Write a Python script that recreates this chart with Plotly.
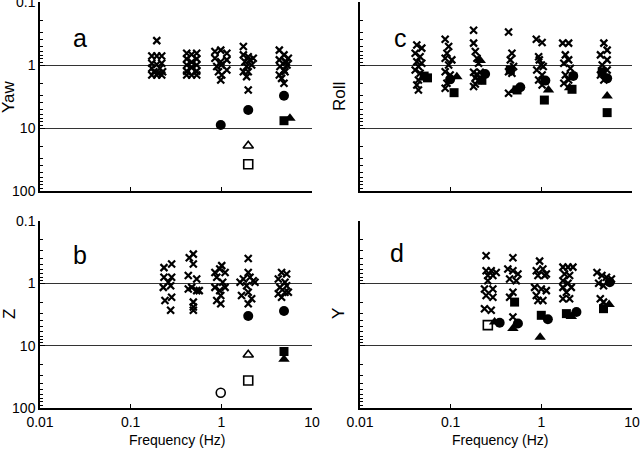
import plotly.graph_objects as go
from plotly.subplots import make_subplots

# ---------------- Panel a : Yaw ----------------
yaw_x_f = [0.194, 0.171, 0.194, 0.22, 0.171, 0.194, 0.22, 0.171, 0.21, 0.18, 0.2, 0.225, 0.171, 0.194, 0.22,
           0.415, 0.47, 0.535, 0.415, 0.535, 0.47, 0.415, 0.535, 0.47, 0.415, 0.535, 0.415, 0.47, 0.535,
           0.85, 0.985, 1.15, 0.85, 0.985, 1.15, 0.89, 1.0, 1.15, 0.93, 1.01, 0.985,
           1.75, 1.75, 1.98, 2.25, 1.82, 2.07, 1.9, 2.16, 1.75, 1.98, 1.9, 1.98,
           4.36, 4.91, 5.48, 4.36, 5.04, 4.43, 4.91, 4.36, 5.04, 4.62, 4.91, 5.3, 5.2]
yaw_x_v = [0.41, 0.72, 0.72, 0.72, 0.94, 0.98, 0.94, 1.13, 1.13, 1.28, 1.35, 1.28, 1.44, 1.44, 1.44,
           0.65, 0.68, 0.65, 0.8, 0.8, 0.9, 1.0, 1.0, 1.1, 1.25, 1.25, 1.44, 1.44, 1.44,
           0.61, 0.58, 0.65, 0.78, 0.89, 0.83, 1.06, 1.0, 1.2, 1.28, 1.44, 1.73,
           0.51, 0.69, 0.74, 0.78, 0.89, 0.83, 1.06, 1.0, 1.28, 1.28, 1.53, 2.49,
           0.58, 0.69, 0.78, 0.83, 0.89, 1.06, 1.2, 1.44, 1.28, 1.63, 1.95, 1.0, 0.9]
yaw_circ_f = [0.985, 1.98, 4.91]
yaw_circ_v = [8.95, 5.18, 3.07]
yaw_sq_f = [4.91]
yaw_sq_v = [7.66]
yaw_tri_f = [5.71]
yaw_tri_v = [7.0]
yaw_otri_f = [1.98]
yaw_otri_v = [19.1]
yaw_osq_f = [1.98]
yaw_osq_v = [37.7]
yaw_ocirc_f = []
yaw_ocirc_v = []

# ---------------- Panel b : Z ----------------
z_x_f = [0.233, 0.283, 0.233, 0.283, 0.26, 0.229, 0.276, 0.239, 0.283, 0.276,
         0.443, 0.491, 0.491, 0.432, 0.471, 0.535, 0.432, 0.535, 0.571, 0.491, 0.491, 0.491,
         0.85, 0.96, 1.01, 1.10, 0.89, 1.035, 0.85, 0.96, 1.10, 0.89, 0.985, 0.985,
         1.98, 1.98, 1.75, 2.07, 2.25, 1.61, 1.9, 2.35, 1.98, 1.67, 2.16, 1.98,
         4.62, 5.25, 4.25, 5.04, 4.43, 5.25, 4.25, 5.04, 4.62, 5.48]
z_x_v = [0.56, 0.49, 0.80, 0.80, 0.96, 1.16, 1.09, 1.88, 1.67, 2.71,
         0.39, 0.34, 0.49, 0.75, 1.16, 0.85, 1.23, 1.31, 1.31, 2.0, 2.4, 2.71,
         0.67, 0.59, 0.52, 0.67, 0.80, 0.96, 1.16, 1.31, 1.16, 1.88, 1.57, 2.12,
         0.40, 0.67, 0.85, 0.80, 0.91, 0.96, 1.09, 0.96, 1.39, 1.57, 1.77, 2.12,
         0.67, 0.71, 0.85, 0.96, 1.16, 1.09, 1.47, 1.39, 1.67, 1.39]
z_circ_f = [1.98, 4.91]
z_circ_v = [3.34, 2.78]
z_sq_f = [4.91]
z_sq_v = [12.4]
z_tri_f = [4.91]
z_tri_v = [16.5]
z_otri_f = [1.98]
z_otri_v = [14.0]
z_osq_f = [1.98]
z_osq_v = [36.3]
z_ocirc_f = [0.985]
z_ocirc_v = [57.0]

# ---------------- Panel c : Roll ----------------
roll_x_f = [0.0423, 0.048, 0.0406, 0.046, 0.0423, 0.048, 0.0441, 0.0406, 0.046, 0.0441, 0.0423, 0.0441,
            0.087, 0.095, 0.091, 0.103, 0.087, 0.095, 0.087, 0.0987, 0.091, 0.087,
            0.179, 0.179, 0.187, 0.195, 0.203, 0.179, 0.195, 0.212, 0.187, 0.203, 0.187, 0.179,
            0.435, 0.474, 0.455, 0.494, 0.435, 0.474, 0.435,
            0.88, 1.02, 0.934, 1.0, 0.89, 1.02, 0.934, 1.02, 0.95, 1.05,
            1.72, 2.0, 1.84, 2.0, 1.77, 2.09, 1.84, 1.77, 2.0,
            4.89, 5.32, 4.49, 5.32, 4.69, 5.32, 4.49, 4.89]
roll_x_v = [0.48, 0.54, 0.65, 0.74, 0.89, 0.94, 1.06, 1.2, 1.35, 1.73, 2.08, 2.49,
            0.39, 0.51, 0.65, 0.83, 0.78, 1.0, 1.28, 1.44, 1.95, 2.34,
            0.28, 0.45, 0.61, 0.78, 0.94, 1.3, 1.4, 1.3, 1.6, 1.75, 2.0, 2.2,
            0.30, 0.65, 0.83, 1.06, 1.28, 1.35, 2.81,
            0.39, 0.44, 0.74, 1.0, 1.2, 1.44, 1.73, 2.08, 0.83, 1.06,
            0.45, 0.45, 0.69, 0.83, 0.94, 1.13, 1.44, 1.95, 1.73,
            0.45, 0.58, 0.69, 0.83, 1.0, 1.2, 1.44, 1.73]
roll_circ_f = [0.0987, 0.24, 0.586, 1.107, 2.25, 5.32]
roll_circ_v = [1.69, 1.39, 2.26, 1.77, 1.49, 1.63]
roll_sq_f = [0.051, 0.0555, 0.109, 0.221, 0.455, 0.54, 1.08, 2.18, 4.69, 5.32]
roll_sq_v = [1.5, 1.6, 2.75, 1.75, 1.2, 2.49, 3.6, 2.43, 1.28, 5.7]
roll_tri_f = [0.117, 0.212, 0.5, 1.2, 2.05, 5.32]
roll_tri_v = [1.53, 0.85, 2.55, 2.49, 2.3, 3.1]
roll_otri_f = []
roll_otri_v = []
roll_osq_f = []
roll_osq_v = []
roll_ocirc_f = []
roll_ocirc_v = []

# ---------------- Panel d : Y ----------------
y_x_f = [0.246, 0.246, 0.28, 0.318, 0.257, 0.292, 0.257, 0.236, 0.292, 0.246, 0.292, 0.236, 0.28,
         0.486, 0.427, 0.486, 0.552, 0.447, 0.529, 0.486, 0.447, 0.486,
         0.957, 0.88, 1.04, 1.135, 0.918, 1.09, 0.843, 0.999, 1.135, 0.88, 1.04, 0.918,
         1.73, 1.97, 2.23, 1.8, 2.05, 1.73, 1.97, 1.73, 2.14, 1.89, 1.73, 2.05,
         4.11, 4.66, 5.23, 5.93, 4.29, 4.85, 4.47, 4.85]
y_x_v = [0.36, 0.63, 0.63, 0.67, 0.75, 0.75, 0.91, 1.23, 1.23, 1.57, 1.67, 2.55, 2.71,
         0.39, 0.59, 0.63, 0.71, 0.85, 0.91, 1.39, 1.67, 3.46,
         0.44, 0.63, 0.59, 0.71, 0.75, 0.75, 1.16, 1.23, 1.31, 1.57, 1.88, 1.88,
         0.55, 0.55, 0.55, 0.71, 0.75, 0.91, 1.0, 1.16, 1.16, 1.39, 1.77, 1.77,
         0.67, 0.75, 0.80, 0.85, 1.0, 1.09, 1.77, 2.0]
y_circ_f = [0.347, 0.552, 1.18, 2.44, 5.68]
y_circ_v = [4.3, 4.4, 3.77, 2.89, 0.96]
y_sq_f = [0.507, 0.999, 1.89, 4.85]
y_sq_v = [2.0, 3.26, 3.06, 2.55]
y_tri_f = [0.305, 0.486, 0.97, 2.14, 5.59]
y_tri_v = [4.16, 5.3, 7.35, 3.4, 2.18]
y_otri_f = []
y_otri_v = []
y_osq_f = [0.257]
y_osq_v = [4.69]
y_ocirc_f = []
y_ocirc_v = []

panel_letters = ["a", "b", "c", "d"]
panel_titles = ["Yaw", "Z", "Roll", "Y"]
x_tick_vals = [0.01, 0.1, 1, 10]
x_tick_text = ["0.01", "0.1", "1", "10"]
y_tick_vals = [0.1, 1, 10, 100]
y_tick_text = ["0.1", "1", "10", "100"]
y_minor_vals = [m * d for d in (0.1, 1, 10) for m in range(2, 10)]

panels = [
    (1, 1, [(yaw_x_f, yaw_x_v), (yaw_circ_f, yaw_circ_v), (yaw_sq_f, yaw_sq_v), (yaw_tri_f, yaw_tri_v),
            (yaw_otri_f, yaw_otri_v), (yaw_osq_f, yaw_osq_v), (yaw_ocirc_f, yaw_ocirc_v)]),
    (2, 1, [(z_x_f, z_x_v), (z_circ_f, z_circ_v), (z_sq_f, z_sq_v), (z_tri_f, z_tri_v),
            (z_otri_f, z_otri_v), (z_osq_f, z_osq_v), (z_ocirc_f, z_ocirc_v)]),
    (1, 2, [(roll_x_f, roll_x_v), (roll_circ_f, roll_circ_v), (roll_sq_f, roll_sq_v), (roll_tri_f, roll_tri_v),
            (roll_otri_f, roll_otri_v), (roll_osq_f, roll_osq_v), (roll_ocirc_f, roll_ocirc_v)]),
    (2, 2, [(y_x_f, y_x_v), (y_circ_f, y_circ_v), (y_sq_f, y_sq_v), (y_tri_f, y_tri_v),
            (y_otri_f, y_otri_v), (y_osq_f, y_osq_v), (y_ocirc_f, y_ocirc_v)]),
]

styles = [
    dict(symbol="x-thin", size=7, color="black", line=dict(width=2.2, color="black")),
    dict(symbol="circle", size=10, color="black", line=dict(width=0)),
    dict(symbol="square", size=9, color="black", line=dict(width=0)),
    dict(symbol="triangle-up", size=10, color="black", line=dict(width=0)),
    dict(symbol="triangle-up-open", size=9, color="black", line=dict(width=1.6, color="black")),
    dict(symbol="square-open", size=9, color="black", line=dict(width=1.6, color="black")),
    dict(symbol="circle-open", size=9, color="black", line=dict(width=1.6, color="black")),
]

fig = make_subplots(rows=2, cols=2)

for r, c, series in panels:
    for (fx, fv), st in zip(series, styles):
        if not fx:
            continue
        fig.add_trace(go.Scatter(x=fx, y=fv, mode="markers", marker=st,
                                 showlegend=False, hoverinfo="skip"), row=r, col=c)

xdom = {1: [40 / 640, 312 / 640], 2: [360 / 640, 632 / 640]}
ydom = {1: [1 - 191 / 450, 1 - 2 / 450], 2: [1 - 408 / 450, 1 - 221 / 450]}

font_family = "Liberation Sans, Arial, sans-serif"

for r in (1, 2):
    for c in (1, 2):
        fig.update_xaxes(type="log", range=[-2, 1], domain=xdom[c], automargin=False,
                         tickmode="array", tickvals=x_tick_vals, ticktext=x_tick_text,
                         showticklabels=(r == 2), ticks="inside", ticklen=4, tickcolor="black",
                         showline=True, linecolor="black", linewidth=1.5, showgrid=False,
                         zeroline=False, tickfont=dict(size=14, color="black"),
                         ticklabeloverflow="allow",
                         row=r, col=c)
        fig.update_yaxes(type="log", range=[2, -1], domain=ydom[r], automargin=False,
                         tickmode="array", tickvals=y_tick_vals, ticktext=y_tick_text,
                         showticklabels=(c == 1), ticks="inside", ticklen=5, tickcolor="black",
                         minor=dict(ticks="inside", ticklen=3, tickcolor="black",
                                    tickmode="array", tickvals=y_minor_vals, showgrid=False),
                         showline=True, linecolor="black", linewidth=1.5,
                         showgrid=True, gridcolor="#333333", gridwidth=1,
                         zeroline=False, tickfont=dict(size=14, color="black"),
                         ticklabeloverflow="allow",
                         row=r, col=c)

annotations = []
letter_pos = [(80, 38), (80, 255), (400, 38), (397, 253)]
for (px, py), t in zip(letter_pos, panel_letters):
    annotations.append(dict(x=px / 640, y=1 - py / 450, xref="paper", yref="paper", text=t,
                            showarrow=False, font=dict(size=25, color="black", family=font_family),
                            xanchor="center", yanchor="middle"))
title_pos = [(9, 97), (9, 314), (340, 97), (338, 314)]
for (px, py), t in zip(title_pos, panel_titles):
    annotations.append(dict(x=px / 640, y=1 - py / 450, xref="paper", yref="paper", text=t,
                            showarrow=False, textangle=-90,
                            font=dict(size=17, color="black", family=font_family),
                            xanchor="center", yanchor="middle"))
for px in (177, 500):
    annotations.append(dict(x=px / 640, y=1 - 440 / 450, xref="paper", yref="paper",
                            text="Frequency (Hz)", showarrow=False,
                            font=dict(size=14, color="black", family=font_family),
                            xanchor="center", yanchor="middle"))

fig.update_layout(width=640, height=450, margin=dict(l=0, r=0, t=0, b=0, autoexpand=False),
                  paper_bgcolor="white", plot_bgcolor="white",
                  font=dict(family=font_family, color="black"),
                  annotations=annotations, showlegend=False)

fig.write_html("out.html", config={"displayModeBar": False},
               post_script="document.body.style.margin='0';document.body.style.overflow='hidden';")
